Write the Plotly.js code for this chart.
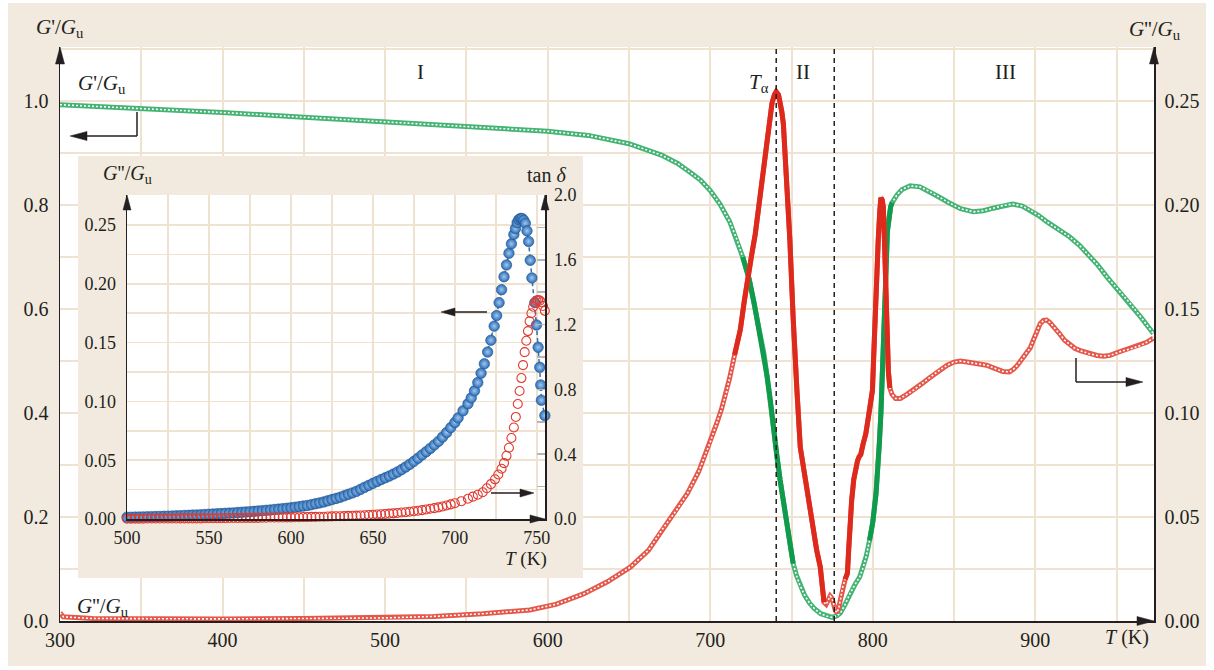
<!DOCTYPE html>
<html><head><meta charset="utf-8">
<script src="https://cdn.plot.ly/plotly-3.0.1.min.js"></script>
<style>
html,body{margin:0;padding:0;background:#fff;width:1214px;height:670px;overflow:hidden;}
#main{position:absolute;left:8px;top:3px;width:1198px;height:663px;}
#inset{position:absolute;left:78px;top:156px;width:505px;height:422px;}
</style></head><body>
<div id="main"></div><div id="inset"></div>
<script>
// ---------- main chart data ----------
const T_storage = [300,350,400,450,500,550,600,625,650,670,680,688,694,700,706,712,716,720,724,727,730,733,735,737,739,741,743,745,747,749,751,753,755,758,761,764,768,772,775,778,780,783,786,789,792,794,796,798,800,802,803,804,805,806,807,808,809,810,811,812,815,818,823,829,835,841,846,854,862,868,874,880,886,892,897,902,907,914,921,927,932,938,944,951,958,965,972.6];
const G_storage = [0.993,0.986,0.978,0.969,0.960,0.952,0.942,0.934,0.918,0.896,0.880,0.862,0.848,0.828,0.802,0.768,0.737,0.700,0.657,0.612,0.563,0.515,0.470,0.425,0.365,0.318,0.271,0.229,0.188,0.150,0.111,0.088,0.070,0.050,0.035,0.024,0.014,0.009,0.007,0.010,0.015,0.032,0.053,0.070,0.085,0.102,0.125,0.155,0.190,0.245,0.285,0.340,0.400,0.470,0.560,0.660,0.750,0.785,0.797,0.805,0.820,0.830,0.837,0.835,0.826,0.815,0.806,0.793,0.787,0.789,0.794,0.799,0.802,0.798,0.790,0.780,0.768,0.754,0.739,0.723,0.707,0.686,0.662,0.637,0.612,0.584,0.553];

const T_loss = [300,302,320,350,400,450,500,530,560,589,605,622,637,651,662,671,679,686,693,700,704,707,710,712,715,718.5,721,723,725.5,727.7,730,731.8,733.5,735,736.5,738,739.5,740.6,742,743,744,745,746,747.5,749,751,752.3,753.4,755.4,757.5,759.5,761.5,763.5,765.5,767.7,769,770,771.3,772.6,773.8,774.9,776,777,778,779,780.3,781.4,783,784.4,785.2,785.8,787,788.3,789.5,790.6,791.6,792.6,794,795.7,797.5,799.8,800.7,801.5,802.5,803.4,804.3,805,805.8,806.5,807.1,807.7,808.2,808.7,809.2,809.6,810.5,811.8,814,817,821,825,830,835,840,845.8,850,853.8,858,862,866,870,875,880,884,886.5,889,890.8,894,897,899,901,903,905,907,909,912,915,918,921.5,924.5,927.7,933,938,942,946,950,954,959,964.6,968.5,972.6];
const G_loss = [0.004,0.002,0.0012,0.001,0.001,0.0012,0.0015,0.0022,0.0035,0.0053,0.008,0.013,0.019,0.026,0.034,0.0446,0.053,0.0614,0.072,0.086,0.095,0.102,0.110,0.117,0.128,0.140,0.154,0.165,0.176,0.186,0.200,0.212,0.221,0.230,0.240,0.249,0.253,0.2545,0.253,0.250,0.245,0.239,0.226,0.205,0.183,0.146,0.120,0.110,0.0835,0.073,0.063,0.052,0.042,0.034,0.026,0.018,0.009,0.008,0.010,0.012,0.011,0.007,0.005,0.004,0.006,0.011,0.016,0.020,0.023,0.035,0.048,0.058,0.068,0.075,0.077,0.079,0.080,0.085,0.090,0.099,0.111,0.130,0.152,0.170,0.184,0.197,0.2035,0.2025,0.199,0.185,0.168,0.156,0.144,0.131,0.120,0.112,0.109,0.107,0.107,0.109,0.111,0.114,0.117,0.120,0.123,0.1245,0.125,0.1245,0.124,0.1235,0.123,0.1215,0.120,0.1198,0.121,0.123,0.125,0.128,0.1315,0.1355,0.1397,0.143,0.1445,0.1447,0.1435,0.141,0.138,0.135,0.133,0.131,0.130,0.1285,0.1277,0.1273,0.1277,0.129,0.130,0.131,0.1325,0.134,0.136];

const xTicks = [300,400,500,600,700,800,900];
const yLeftTicks = [0,0.2,0.4,0.6,0.8,1.0];
const yLeftText = ['0.0','0.2','0.4','0.6','0.8','1.0'];
const yRightTicks = [0,0.05,0.10,0.15,0.20,0.25];
const yRightText = ['0.00','0.05','0.10','0.15','0.20','0.25'];
const regionBounds = [740.6, 776.3];

// ---------- inset data ----------
const T_in = [500,502.5,505,507.5,510,512.5,515,517.5,520,522.5,525,527.5,530,532.5,535,537.5,540,542.5,545,547.5,
  550,552.5,555,557.5,560,562.5,565,567.5,570,572.5,575,577.5,580,582.5,585,587.5,590,592.5,595,597.5,
  600,602.5,605,607.5,610,612.5,615,617.5,620,622.5,625,627.5,630,632.5,635,637.5,640,642.5,645,647.5,
  650,652.5,655,657.5,660,662.5,665,667.5,670,672.5,675,677.5,680,682.5,685,687.5,690,692.5,695,697.5,
  700,702,705,708,710,712,714,716,718,720,722,724,725.5,727,728.5,730,731.5,733,734.5,736,737,738,739,740,741,742,743,744,745,746,747,748.8,749.8,750.8,751.8,752.4,752.8,754.9,755.9];
const Gloss_in = [0.0015,0.0015,0.0016,0.0017,0.0018,0.0019,0.002,0.0021,0.0022,0.0023,0.0024,0.0025,0.0027,0.0028,0.003,0.0031,0.0033,0.0034,0.0036,0.0038,
  0.004,0.0042,0.0044,0.0046,0.0048,0.005,0.0052,0.0055,0.0057,0.006,0.0062,0.0065,0.0068,0.0071,0.0074,0.0077,0.0081,0.0084,0.0088,0.0091,
  0.0095,0.010,0.0105,0.011,0.0115,0.0122,0.013,0.0137,0.0145,0.0155,0.0165,0.0175,0.0185,0.0197,0.021,0.0222,0.0235,0.0252,0.027,0.0286,
  0.0303,0.0319,0.0335,0.035,0.0365,0.0382,0.040,0.042,0.0442,0.0465,0.049,0.0517,0.0545,0.0572,0.060,0.063,0.066,0.0697,0.0735,0.0777,
  0.082,0.086,0.092,0.098,0.103,0.109,0.116,0.124,0.132,0.142,0.152,0.164,0.173,0.184,0.195,0.206,0.216,0.226,0.234,0.242,0.247,0.252,0.2545,0.2555,0.2555,0.254,0.2515,0.245,0.236,0.220,0.205,0.184,0.165,0.146,0.129,0.114,0.101,0.088,0.078];
const T_tan = [500,502.5,505,507.5,510,512.5,515,517.5,520,522.5,525,527.5,530,532.5,535,537.5,540,542.5,545,547.5,
  550,552.5,555,557.5,560,562.5,565,567.5,570,572.5,575,577.5,580,582.5,585,587.5,590,592.5,595,597.5,
  600,602.5,605,607.5,610,612.5,615,617.5,620,622.5,625,627.5,630,632.5,635,637.5,640,642.5,645,647.5,
  650,652.5,655,657.5,660,662.5,665,667.5,670,672.5,675,677.5,680,682.5,685,687.5,690,692.5,695,697.5,
  700,704,708,711,714,717,719.5,722,724.5,726.5,728.5,730,731.5,733,734.5,736,737.2,738.4,739.5,740.6,741.6,742.6,743.6,744.6,745.6,746.7,747.8,748.8,749.8,750.8,751.8,752.8,753.8,754.9,755.9];
const tanDelta = [0.002,0.002,0.002,0.002,0.002,0.003,0.003,0.003,0.003,0.003,0.003,0.003,0.003,0.004,0.004,0.004,0.004,0.004,0.004,0.005,
  0.005,0.005,0.005,0.005,0.005,0.006,0.006,0.006,0.006,0.007,0.007,0.007,0.007,0.008,0.008,0.009,0.009,0.009,0.009,0.010,
  0.010,0.011,0.011,0.012,0.012,0.013,0.013,0.014,0.014,0.015,0.016,0.017,0.017,0.018,0.019,0.020,0.021,0.022,0.023,0.025,
  0.026,0.028,0.029,0.031,0.033,0.035,0.037,0.040,0.042,0.045,0.048,0.051,0.055,0.059,0.063,0.067,0.072,0.077,0.083,0.090,
  0.097,0.110,0.125,0.138,0.150,0.165,0.19,0.215,0.245,0.275,0.31,0.345,0.39,0.44,0.50,0.565,0.63,0.71,0.79,0.87,0.95,1.03,1.10,1.16,1.22,1.27,1.31,1.335,1.348,1.352,1.348,1.338,1.315,1.285,1.25];
const inXTicks = [500,550,600,650,700,750];
const inYTicks = [0,0.05,0.10,0.15,0.20,0.25];
const inYText = ['0.00','0.05','0.10','0.15','0.20','0.25'];
const inY2Ticks = [0,0.2,0.4,0.6,0.8,1.0,1.2,1.4,1.6,1.8,2.0];
const inY2Text = ['0.0','','0.4','','0.8','','1.2','','1.6','','2.0'];

// ---------- styling ----------
const FONT = 'Liberation Serif, Times New Roman, serif';
const INK = '#231f20';
const BEIGE = '#f2eade';
const GRID = '#efe2d0';
const denseG = [[720,752],[797,812]];
const denseR = [[713,771],[782,811]];
function mask(xs, ys, ranges){return ys.map((v,i)=>ranges.some(r=>xs[i]>=r[0]&&xs[i]<=r[1])?v:null);}

// main plot area in reference-page pixels
const M = {x0:60, x1:1154, y0:47, y1:621};
const mx = X => (X-M.x0)/(M.x1-M.x0);
const my = Y => (M.y1-Y)/(M.y1-M.y0);
function headPath(fx, fy, tipX, tipY, dir, len, hw){
  let pts;
  if(dir==='left') pts=[[tipX,tipY],[tipX+len,tipY-hw],[tipX+len,tipY+hw]];
  else if(dir==='right') pts=[[tipX,tipY],[tipX-len,tipY-hw],[tipX-len,tipY+hw]];
  else pts=[[tipX,tipY],[tipX-hw,tipY+len],[tipX+hw,tipY+len]];
  return 'M'+pts.map(p=>fx(p[0])+','+fy(p[1])).join('L')+'Z';
}
function headShape(fx,fy,tipX,tipY,dir,len,hw){
  return {type:'path', xref:'paper', yref:'paper', path:headPath(fx,fy,tipX,tipY,dir,len,hw), fillcolor:INK, line:{color:INK,width:0.5}, layer:'above'};
}
function lineShape(fx,fy,xa,ya,xb,yb){
  return {type:'line', xref:'paper', yref:'paper', x0:fx(xa), y0:fy(ya), x1:fx(xb), y1:fy(yb), line:{color:INK,width:1.5}, layer:'above'};
}
function ann(fx,fy,X,Y,text,size){
  return {xref:'paper', yref:'paper', x:fx(X), y:fy(Y), text:text, showarrow:false, xanchor:'center', yanchor:'middle', font:{family:FONT,size:size||21,color:INK}};
}

const greenLight = '#44b374', greenDark = '#109a4c';
const redLight = '#e4574a', redDark = '#de2a1c';

const mainTraces = [
  {x:T_storage, y:G_storage, yaxis:'y', mode:'lines', line:{color:greenLight,width:5}, hoverinfo:'skip'},
  {x:T_storage, y:G_storage, yaxis:'y', mode:'lines', line:{color:'#ffffff',width:1.6,dash:'2px,2px'}, hoverinfo:'skip'},
  {x:T_storage, y:mask(T_storage,G_storage,denseG), yaxis:'y', mode:'lines', connectgaps:false, line:{color:greenDark,width:5}, hoverinfo:'skip'},
  {x:T_loss, y:G_loss, yaxis:'y2', mode:'lines', line:{color:redLight,width:5}, hoverinfo:'skip'},
  {x:T_loss, y:G_loss, yaxis:'y2', mode:'lines', line:{color:'#ffffff',width:1.6,dash:'2px,2px'}, hoverinfo:'skip'},
  {x:T_loss, y:mask(T_loss,G_loss,denseR), yaxis:'y2', mode:'lines', connectgaps:false, line:{color:redDark,width:5}, hoverinfo:'skip'}
];

const mainShapes = regionBounds.map(t=>({type:'line', xref:'x', yref:'paper', x0:t, x1:t, y0:0, y1:1, line:{color:INK,width:1.5,dash:'5px,4px'}, layer:'above'}));
mainShapes.push(headShape(mx,my,60,47,'up',17,4.5));
mainShapes.push(headShape(mx,my,1154,47,'up',17,4.5));
mainShapes.push(headShape(mx,my,1154,621,'right',17,4.5));
// bracket arrows
mainShapes.push(lineShape(mx,my,137,112,137,136));
mainShapes.push(lineShape(mx,my,137,136,84,136));
mainShapes.push(headShape(mx,my,70,136,'left',17,4.5));
mainShapes.push(lineShape(mx,my,1076,358,1076,382));
mainShapes.push(lineShape(mx,my,1076,382,1128,382));
mainShapes.push(headShape(mx,my,1143,382,'right',17,4.5));

const mainAnn = [
  ann(mx,my,60,28,"<i>G</i>'/<i>G</i><sub>u</sub>"),
  ann(mx,my,1155,30,"<i>G</i>''/<i>G</i><sub>u</sub>"),
  ann(mx,my,102,84,"<i>G</i>'/<i>G</i><sub>u</sub>"),
  ann(mx,my,103,607,"<i>G</i>''/<i>G</i><sub>u</sub>"),
  ann(mx,my,420,72,"I"),
  ann(mx,my,803,72,"II"),
  ann(mx,my,1005,72,"III"),
  ann(mx,my,759,83,"<i>T</i><sub>α</sub>"),
  ann(mx,my,1127,637,"<i>T</i> (K)",20)
];

const mainLayout = {
  width:1198, height:663,
  margin:{l:52, r:52, t:44, b:45, pad:0},
  paper_bgcolor:BEIGE, plot_bgcolor:'#ffffff',
  showlegend:false,
  font:{family:FONT, size:20, color:INK},
  xaxis:{range:[300,973], tickvals:xTicks, ticktext:xTicks.map(String), showgrid:true, gridcolor:GRID, gridwidth:2,
         minor:{tickvals:[350,450,550,650,750,850,950], showgrid:true, gridcolor:GRID, gridwidth:2},
         showline:true, linecolor:INK, linewidth:1.5, ticks:'', zeroline:false, ticklabelstandoff:0,
         tickfont:{family:FONT,size:20,color:INK}},
  yaxis:{range:[0,1.104], tickvals:yLeftTicks, ticktext:yLeftText, showgrid:true, gridcolor:GRID, gridwidth:2,
         minor:{tickvals:[0.1,0.3,0.5,0.7,0.9,1.1], showgrid:true, gridcolor:GRID, gridwidth:2},
         showline:true, linecolor:INK, linewidth:1.5, ticks:'', zeroline:false, ticklabelstandoff:6,
         tickfont:{family:FONT,size:20,color:INK}},
  yaxis2:{range:[0,0.276], overlaying:'y', side:'right', anchor:'x', tickvals:yRightTicks, ticktext:yRightText,
          showgrid:false, showline:true, linecolor:INK, linewidth:1.5, ticks:'', zeroline:false, ticklabelstandoff:5,
          tickfont:{family:FONT,size:20,color:INK}},
  shapes:mainShapes,
  annotations:mainAnn
};

Plotly.newPlot('main', mainTraces, mainLayout, {displayModeBar:false, staticPlot:true});

// ---------- inset ----------
const I = {x0:127, x1:545, y0:195, y1:519};
const ix = X => (X-I.x0)/(I.x1-I.x0);
const iy = Y => (I.y1-Y)/(I.y1-I.y0);

const insetTraces = [
  {x:T_in, y:Gloss_in, yaxis:'y', mode:'lines+markers', cliponaxis:false,
   line:{color:'#2f6fb8', width:1.5, dash:'4px,3px'},
   marker:{size:10.5, color:'#2d6cb5', gradient:{type:'radial', color:'#9ec8f0'}, line:{color:'#1f548f', width:0.6}}, hoverinfo:'skip'},
  {x:T_tan, y:tanDelta, yaxis:'y2', mode:'markers', cliponaxis:false,
   marker:{symbol:'circle-open', size:9, color:'#e03a30', line:{width:1.1}}, hoverinfo:'skip'}
];

const insetShapes = [
  headShape(ix,iy,127,195,'up',15,4),
  headShape(ix,iy,545,195,'up',15,4),
  headShape(ix,iy,545,519,'right',15,4),
  lineShape(ix,iy,487,312,452,312),
  headShape(ix,iy,441,312,'left',14,4),
  lineShape(ix,iy,491,493,522,493),
  headShape(ix,iy,534,493,'right',14,4)
];
const insetAnn = [
  ann(ix,iy,127,175,"<i>G</i>''/<i>G</i><sub>u</sub>",20),
  ann(ix,iy,546,175,"tan <i>δ</i>",20),
  ann(ix,iy,526,559,"<i>T</i> (K)",19)
];

const insetLayout = {
  width:505, height:422,
  margin:{l:49, r:38, t:39, b:59, pad:0},
  paper_bgcolor:BEIGE, plot_bgcolor:'#ffffff',
  showlegend:false,
  font:{family:FONT, size:18, color:INK},
  xaxis:{range:[500,755], tickvals:inXTicks, ticktext:inXTicks.map(String), showgrid:true, gridcolor:GRID, gridwidth:1.5,
         minor:{tickvals:[525,575,625,675,725], showgrid:true, gridcolor:GRID, gridwidth:1.5},
         showline:true, linecolor:INK, linewidth:1.5, ticks:'', zeroline:false, ticklabelstandoff:2,
         tickfont:{family:FONT,size:18,color:INK}},
  yaxis:{range:[0,0.2755], tickvals:inYTicks, ticktext:inYText, showgrid:true, gridcolor:GRID, gridwidth:1.5,
         minor:{tickvals:[0.025,0.075,0.125,0.175,0.225], showgrid:true, gridcolor:GRID, gridwidth:1.5},
         showline:true, linecolor:INK, linewidth:1.5, ticks:'', zeroline:false, ticklabelstandoff:6,
         tickfont:{family:FONT,size:18,color:INK}},
  yaxis2:{range:[0,2.0], overlaying:'y', side:'right', anchor:'x', tickvals:inY2Ticks, ticktext:inY2Text,
          showgrid:false, showline:true, linecolor:INK, linewidth:1.5, ticks:'inside', ticklen:8, tickcolor:'#b5b5b5', tickwidth:1.5,
          zeroline:false, ticklabelstandoff:4, tickfont:{family:FONT,size:18,color:INK}},
  shapes:insetShapes,
  annotations:insetAnn
};

Plotly.newPlot('inset', insetTraces, insetLayout, {displayModeBar:false, staticPlot:true});
</script>
</body></html>
